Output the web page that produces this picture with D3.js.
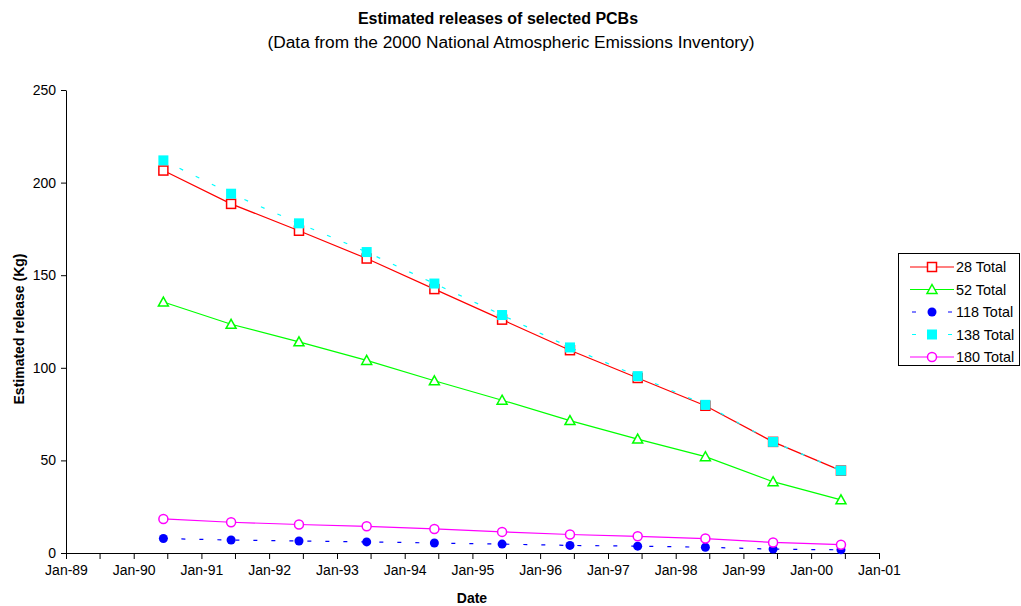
<!DOCTYPE html>
<html><head><meta charset="utf-8">
<script src="https://cdn.jsdelivr.net/npm/d3@7"></script>
<style>body{margin:0;background:#fff;} text{font-family:"Liberation Sans",Arial,sans-serif;}</style>
</head><body><svg id="c" width="1021" height="606"></svg>
<script>
const dates = ["1990-06-10","1991-06-10","1992-06-10","1993-06-10","1994-06-10","1995-06-10","1996-06-10","1997-06-10","1998-06-10","1999-06-10","2000-06-10"];
const s28  = [206.5,188.5,174,159,142.5,126,109.5,94.5,79.5,60,44.5];
const s52  = [135.5,123.5,114,104,93,82.5,71.5,61.5,52,38.5,28.7];
const s118 = [7.8,7,6.5,6,5.4,4.8,4.1,3.7,3.1,2.1,1.7];
const s138 = [212,194,178,162.5,145.5,128.5,111,95.5,80,60,44.5];
const s180 = [18.4,16.6,15.4,14.4,13,11.4,10,9,7.8,5.7,4.5];
const seriesNames = ["28 Total","52 Total","118 Total","138 Total","180 Total"];
const yTicks = [0,50,100,150,200,250];

const parse = d3.timeParse("%Y-%m-%d");
const svg = d3.select("#c");
const L=66,R=879,T=90,B=553;
const x = d3.scaleTime().domain([new Date(1989,0,1), new Date(2001,0,1)]).range([L,R]);
const y = d3.scaleLinear().domain([0,250]).range([B,T]);

// title
svg.append("text").attr("x",498).attr("y",24).attr("text-anchor","middle").attr("font-weight","bold").attr("font-size","16px").text("Estimated releases of selected PCBs");
svg.append("text").attr("x",511).attr("y",48).attr("text-anchor","middle").attr("font-size","17.3px").text("(Data from the 2000 National Atmospheric Emissions Inventory)");

// y axis
const ya = svg.append("g").attr("transform",`translate(${L},0)`).call(d3.axisLeft(y).tickValues(yTicks).tickSize(5).tickSizeOuter(0).tickPadding(5));
ya.select(".domain").attr("stroke","#000");
ya.selectAll("text").attr("font-size","14px").attr("font-family","Liberation Sans, Arial, sans-serif");
// x axis
const halfYears = d3.timeMonth.every(6).range(new Date(1989,0,1), new Date(2001,0,2));
const xa = svg.append("g").attr("transform",`translate(0,${B})`).call(d3.axisBottom(x).tickValues(halfYears).tickSize(6).tickSizeOuter(0).tickPadding(6).tickFormat(d=> d.getMonth()===0 ? d3.timeFormat("Jan-%y")(d) : ""));
xa.selectAll("text").attr("font-size","14px").attr("font-family","Liberation Sans, Arial, sans-serif");

svg.append("text").attr("x",472).attr("y",603).attr("text-anchor","middle").attr("font-weight","bold").attr("font-size","14px").text("Date");
svg.append("text").attr("transform","translate(24,329) rotate(-90)").attr("text-anchor","middle").attr("font-weight","bold").attr("font-size","14px").text("Estimated release (Kg)");

const styles = [
 {vals:s28, color:"#FF0000", dash:null, marker:"sqo"},
 {vals:s52, color:"#00FF00", dash:null, marker:"tri"},
 {vals:s118, color:"#0000FF", dash:"4,14", marker:"dot"},
 {vals:s138, color:"#00FFFF", dash:"4,14", marker:"sqf"},
 {vals:s180, color:"#FF00FF", dash:null, marker:"cio"}
];
const line = d3.line().x(d=>x(d.d)).y(d=>y(d.v));
function marker(g, type, color, cx, cy){
  if(type==="sqo") g.append("rect").attr("x",cx-4.5).attr("y",cy-4.5).attr("width",9).attr("height",9).attr("fill","#fff").attr("stroke",color).attr("stroke-width",1.5);
  if(type==="sqf") g.append("rect").attr("x",cx-5).attr("y",cy-5).attr("width",10).attr("height",10).attr("fill",color);
  if(type==="tri") g.append("path").attr("d",`M${cx},${cy-5}L${cx+5},${cy+4}L${cx-5},${cy+4}Z`).attr("fill","#fff").attr("stroke",color).attr("stroke-width",1.5);
  if(type==="dot") g.append("circle").attr("cx",cx).attr("cy",cy).attr("r",4.5).attr("fill",color);
  if(type==="cio") g.append("circle").attr("cx",cx).attr("cy",cy).attr("r",4.5).attr("fill","#fff").attr("stroke",color).attr("stroke-width",1.5);
}
styles.forEach(s=>{
  const data = dates.map((d,i)=>({d:parse(d), v:s.vals[i]}));
  const g = svg.append("g");
  g.append("path").datum(data).attr("d",line).attr("fill","none").attr("stroke",s.color).attr("stroke-width",1.2).attr("stroke-dasharray",s.dash);
  data.forEach(p=>marker(g,s.marker,s.color,x(p.d),y(p.v)));
});

// legend
const lg = svg.append("g");
lg.append("rect").attr("x",898.5).attr("y",253.5).attr("width",121).attr("height",112).attr("fill","#fff").attr("stroke","#000");
styles.forEach((s,i)=>{
  const yy = 267 + i*22.5;
  lg.append("line").attr("x1",910).attr("x2",954).attr("y1",yy).attr("y2",yy).attr("stroke",s.color).attr("stroke-width",1.2).attr("stroke-dasharray",s.dash? "4,14":null).attr("stroke-dashoffset",s.dash? -2:null);
  marker(lg,s.marker,s.color,932,yy);
  lg.append("text").attr("x",956).attr("y",yy+5).attr("font-size","14.4px").text(seriesNames[i]);
});
</script></body></html>
